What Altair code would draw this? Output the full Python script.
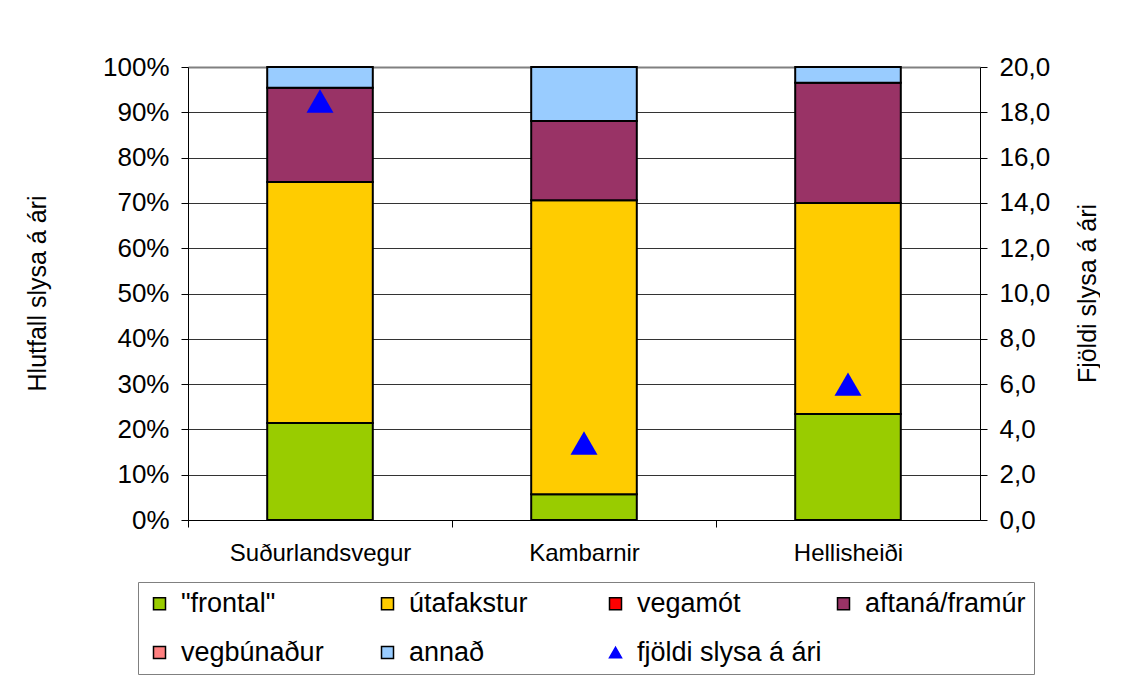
import altair as alt
import pandas as pd

# ---- data ----
categories = ["Suðurlandsvegur", "Kambarnir", "Hellisheiði"]
types = ['"frontal"', "útafakstur", "vegamót", "aftaná/framúr", "vegbúnaður", "annað"]
frontal = [21.4, 5.7, 23.4]
utafakstur = [53.2, 64.9, 46.6]
vegamot = [0.0, 0.0, 0.0]
aftana = [20.8, 17.5, 26.5]
vegbunadur = [0.0, 0.0, 0.0]
annad = [4.6, 11.9, 3.5]
accidents_per_year = [18.5, 3.4, 6.0]
marker_label = "fjöldi slysa á ári"

left_ticks = [0.0, 0.1, 0.2, 0.3, 0.4, 0.5, 0.6, 0.7, 0.8, 0.9, 1.0]
right_ticks = [0, 2, 4, 6, 8, 10, 12, 14, 16, 18, 20]

colors = ["#99CC00", "#FFCC00", "#FF0000", "#993366", "#FF8080", "#99CCFF"]
marker_color = "#0000FF"

series = [frontal, utafakstur, vegamot, aftana, vegbunadur, annad]
rows = []
for ti, (t, vals) in enumerate(zip(types, series)):
    for c, v in zip(categories, vals):
        rows.append({"cat": c, "type": t, "share": v, "idx": ti})
df_bars = pd.DataFrame(rows)
df_pts = pd.DataFrame({"cat": categories, "count": accidents_per_year,
                       "type": [marker_label] * len(categories)})

FONT = "Liberation Sans"
W, H = 792, 453
STEP = W / len(categories)

domain_all = types + [marker_label]
color_scale = alt.Scale(domain=domain_all, range=colors + [marker_color])
shape_scale = alt.Scale(domain=domain_all, range=["square"] * 6 + ["triangle-up"])
stroke_scale = alt.Scale(domain=domain_all, range=["#000000"] * 6 + [marker_color])

legend = alt.Legend(
    orient="none", legendX=-50, legendY=515, columns=4, gridAlign="all",
    direction="horizontal", columnPadding=8, rowPadding=21, padding=8,
    strokeColor="#808080", labelFont=FONT, labelFontSize=27, labelColor="#000000",
    labelLimit=400, symbolSize=144, symbolStrokeWidth=1.5, labelOffset=8,
)

x_enc = alt.X(
    "cat:N", sort=categories, title=None,
    scale=alt.Scale(paddingInner=0.6, paddingOuter=0.3),
    axis=alt.Axis(labelAngle=0, labelFont=FONT, labelFontSize=24, labelColor="#000000",
                  labelLimit=400, labelPadding=14, tickSize=7, tickColor="#000000",
                  tickOffset=-STEP / 2, labelOffset=STEP / 2,
                  domainColor="#000000", grid=False),
)

bars = alt.Chart(df_bars).transform_filter("datum.share > 0").mark_bar(
    strokeWidth=2
).encode(
    x=x_enc,
    y=alt.Y(
        "share:Q", stack="normalize", scale=alt.Scale(domain=[0, 1]),
        title="Hlutfall slysa á ári",
        axis=alt.Axis(
            values=left_ticks, format=".0%", labelFont=FONT, labelFontSize=26,
            labelColor="#000000", labelPadding=12, tickSize=7, tickColor="#000000",
            domainColor="#000000", grid=True,
            gridColor={"condition": {"test": "datum.value >= 1", "value": "#808080"}, "value": "#333333"},
            gridWidth={"condition": {"test": "datum.value >= 1", "value": 2}, "value": 1},
            titleFont=FONT, titleFontSize=25, titleColor="#000000", titleFontWeight="normal",
            titleAngle=270, titleX=-151, titleY=226, titleAlign="center", titleBaseline="middle",
        ),
    ),
    color=alt.Color("type:N", scale=color_scale, title=None, legend=legend),
    stroke=alt.Stroke("type:N", scale=stroke_scale, title=None, legend=legend),
    order=alt.Order("idx:Q", sort="ascending"),
)

points = alt.Chart(df_pts).mark_point(filled=True, size=729, opacity=1, strokeWidth=0).encode(
    x=x_enc,
    y=alt.Y(
        "count:Q", scale=alt.Scale(domain=[0, 20]), title="Fjöldi slysa á ári",
        axis=alt.Axis(
            orient="right", values=right_ticks,
            labelExpr="replace(format(datum.value, '.1f'), '.', ',')",
            labelFont=FONT, labelFontSize=26, labelColor="#000000", labelPadding=12,
            tickSize=7, tickColor="#000000", domainColor="#000000", grid=False,
            titleFont=FONT, titleFontSize=25, titleColor="#000000", titleFontWeight="normal",
            titleAngle=270, titleX=107, titleY=226, titleAlign="center", titleBaseline="middle",
        ),
    ),
    color=alt.Color("type:N", scale=color_scale, title=None, legend=legend),
    shape=alt.Shape("type:N", scale=shape_scale, title=None, legend=legend),
    stroke=alt.Stroke("type:N", scale=stroke_scale, title=None, legend=legend),
)

chart = alt.layer(bars, points).resolve_scale(y="independent").properties(
    width=W, height=H,
    autosize=alt.AutoSizeParams(type="none"),
    padding={"left": 180, "top": 59, "right": 120, "bottom": 160},
    background="#FFFFFF",
).configure_view(stroke="transparent")

chart.save("out.html", embed_options={"renderer": "svg", "actions": False})
